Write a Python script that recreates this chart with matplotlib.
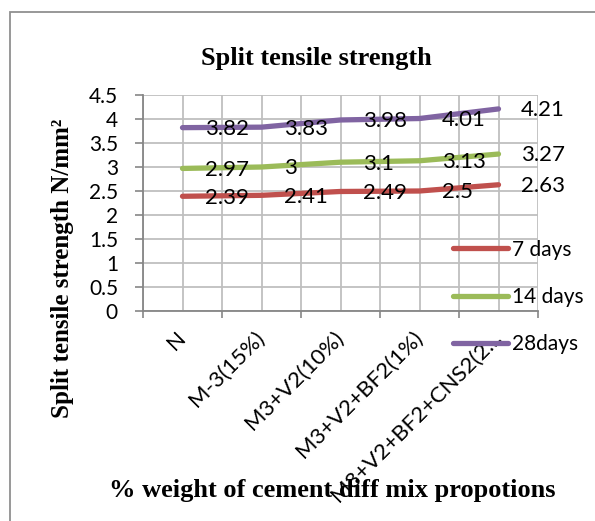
import matplotlib.pyplot as plt
from matplotlib.patches import Rectangle

categorias = ['N', 'M-3(15%)', 'M3+V2(10%)', 'M3+V2+BF2(1%)', 'M3+V2+BF2+CNS2(2…']
dias_7 = [2.39, 2.41, 2.49, 2.5, 2.63]
dias_14 = [2.97, 3, 3.1, 3.13, 3.27]
dias_28 = [3.82, 3.83, 3.98, 4.01, 4.21]
series = [("7 days", dias_7, "#C0504D"),
          ("14 days", dias_14, "#9BBB59"),
          ("28days", dias_28, "#8064A2")]
ticks_y = [0, 0.5, 1, 1.5, 2, 2.5, 3, 3.5, 4, 4.5]

plt.rcParams['font.family'] = ['Lato', 'DejaVu Sans']
W, H = 595, 521
fig = plt.figure(figsize=(W / 100, H / 100), dpi=100)
ax = fig.add_axes([143 / W, 1 - 311 / H, (538 - 143) / W, (311 - 95) / H])

x = list(range(len(categorias)))
for nombre, vals, color in series:
    ax.plot(x, vals, color=color, lw=3.8, solid_capstyle='round', label=nombre, zorder=3)
    for xi, v in zip(x, vals):
        ax.annotate(f"{v:g}", (xi, v), xytext=(16, -1), textcoords='offset points',
                    ha='left', va='center', fontsize=16, color='black', zorder=4)

ax.set_xlim(-0.5, len(categorias) - 0.5)
ax.set_ylim(0, 4.5)
ax.set_yticks(ticks_y)
ax.set_yticklabels([f"{t:g}" for t in ticks_y])

# ticks mayores en los limites de categoria, etiquetas en los centros
limites = [i - 0.5 for i in range(len(categorias) + 1)]
ax.set_xticks(limites)
ax.set_xticklabels([''] * len(limites))
ax.set_xticks(x, minor=True)
ax.set_xticklabels(categorias, minor=True, rotation=45, ha='right',
                   va='center', rotation_mode='anchor', fontsize=16)
ax.tick_params(axis='x', which='minor', length=0, pad=17)
ax.tick_params(axis='x', which='major', length=5, color='#868686', width=1.2)
ax.tick_params(axis='y', length=6, color='#868686', width=1.2, labelsize=15, pad=12)

gris = '#BFBFBF'
for t in ticks_y:
    ax.axhline(t, color=gris, lw=1.3, zorder=1)
for xv in limites + x:
    ax.axvline(xv, color=gris, lw=1.3, zorder=1)
for s in ['top', 'right']:
    ax.spines[s].set_visible(False)
for s in ['left', 'bottom']:
    ax.spines[s].set_color('#868686')
    ax.spines[s].set_linewidth(1.3)

fig.text(316 / W, 1 - 58 / H, "Split tensile strength", family='Liberation Serif',
         weight='bold', fontsize=19, ha='center', va='center')
fig.text(63 / W, 1 - 268 / H, "Split tensile strength N/mm²",
         family='Liberation Serif', weight='bold', fontsize=18, rotation=90,
         ha='center', va='center')
fig.text(332 / W, 1 - 490 / H, "% weight of cement diff mix propotions",
         family='Liberation Serif', weight='bold', fontsize=19, ha='center', va='center')

fig.legend(loc='center left', bbox_to_anchor=(453 / W, 1 - 297 / H), frameon=False,
           fontsize=15, handlelength=2.65, handletextpad=0.2, labelspacing=1.32,
           borderpad=0, borderaxespad=0)

fig.add_artist(Rectangle((10 / W, -0.1), 1.2, 1 - 12 / H + 0.1, transform=fig.transFigure,
                         fill=False, edgecolor='#909090', lw=1.3))

fig.savefig("out.png", dpi=100)
